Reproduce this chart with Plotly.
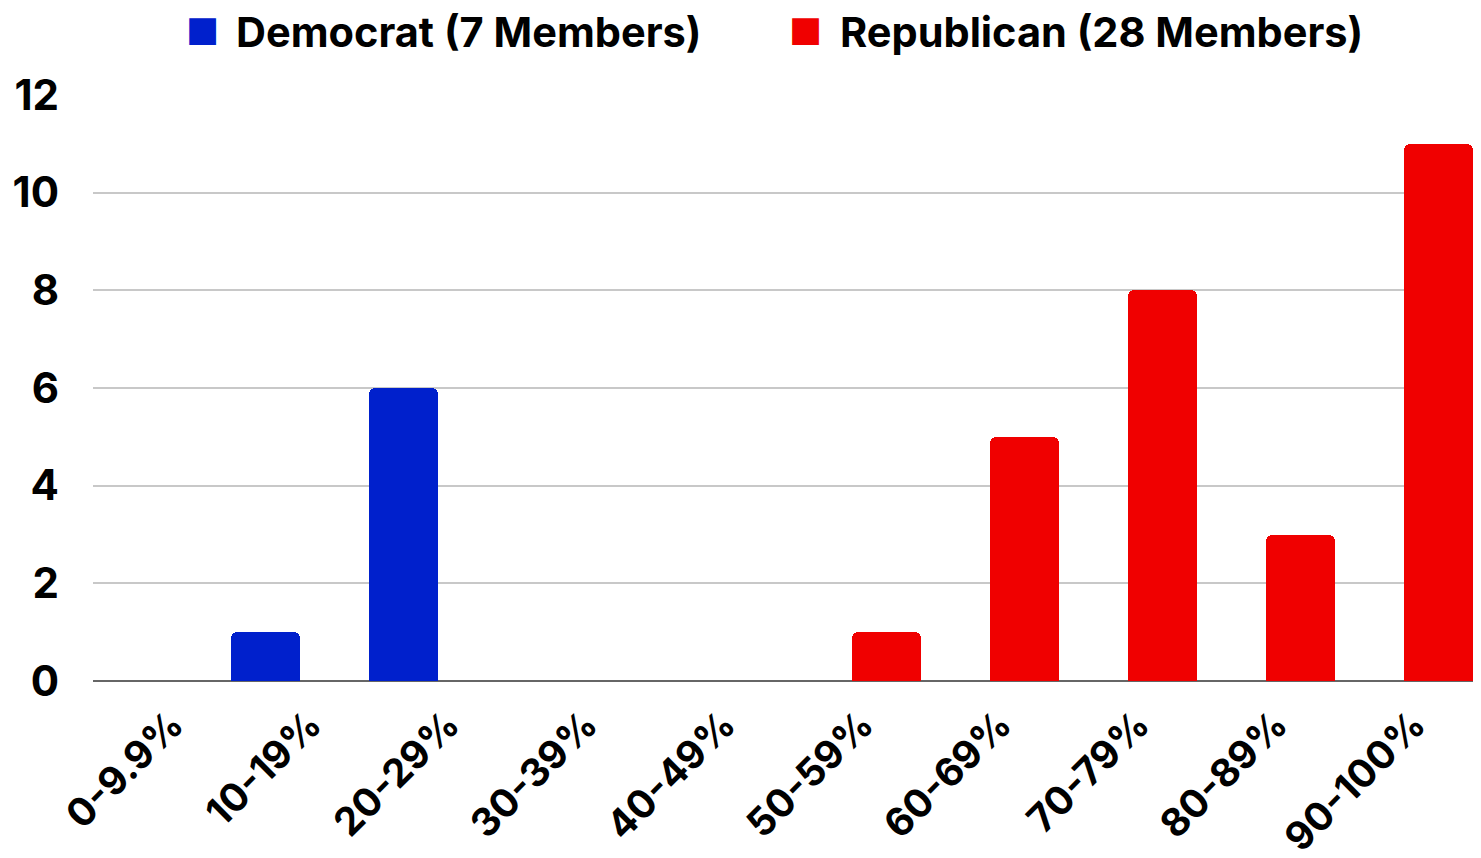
import plotly.graph_objects as go

categories = ["0-9.9%", "10-19%", "20-29%", "30-39%", "40-49%",
              "50-59%", "60-69%", "70-79%", "80-89%", "90-100%"]
democrat = [0, 1, 6, 0, 0, 0, 0, 0, 0, 0]
republican = [0, 0, 0, 0, 0, 1, 5, 8, 3, 11]
dem_name = "Democrat (7 Members)"
rep_name = "Republican (28 Members)"
y_ticks = [0, 2, 4, 6, 8, 10, 12]

BLUE = "#0020CC"
RED = "#F00000"
FONT = "Inter, Lato, DejaVu Sans, sans-serif"

fig = go.Figure()
fig.add_trace(go.Bar(x=categories, y=democrat, name=dem_name, showlegend=False,
                     marker=dict(color=BLUE, line=dict(width=0))))
fig.add_trace(go.Bar(x=categories, y=republican, name=rep_name, showlegend=False,
                     marker=dict(color=RED, line=dict(width=0))))

# legend drawn as text (squares + labels)
legend_items = [(dem_name, BLUE, 0.079, 0.102), (rep_name, RED, 0.516, 0.540)]
for name, col, sx, tx in legend_items:
    fig.add_annotation(xref="paper", yref="paper", x=sx, y=1.113,
                       xanchor="center", yanchor="middle", showarrow=False,
                       text="■", font=dict(family="DejaVu Sans", size=35, color=col))
    fig.add_annotation(xref="paper", yref="paper", x=tx, y=1.108,
                       xanchor="left", yanchor="middle", showarrow=False,
                       text=name, font=dict(family=FONT, size=41.5, color="black", weight="bold"))

fig.update_layout(
    width=1481, height=858,
    paper_bgcolor="white", plot_bgcolor="white",
    margin=dict(l=85, r=16, t=87, b=185, autoexpand=False),
    barmode="group", bargap=0, bargroupgap=0,
    barcornerradius=6,
    showlegend=False,
    xaxis=dict(tickangle=-45, showgrid=False, automargin=False,
               tickfont=dict(family=FONT, size=39, color="black", weight="bold"),
               ticklabelstandoff=12, ticklabelshift=10, showline=False, ticks=""),
    yaxis=dict(range=[0, 12], tickvals=y_ticks, showgrid=True, automargin=False,
               gridcolor="#c8c8c8", gridwidth=1.5,
               zeroline=True, zerolinecolor="#666666", zerolinewidth=2,
               tickfont=dict(family=FONT, size=42, color="black", weight="bold"),
               ticklabelstandoff=33, ticks=""),
)

fig.write_html("out.html")
